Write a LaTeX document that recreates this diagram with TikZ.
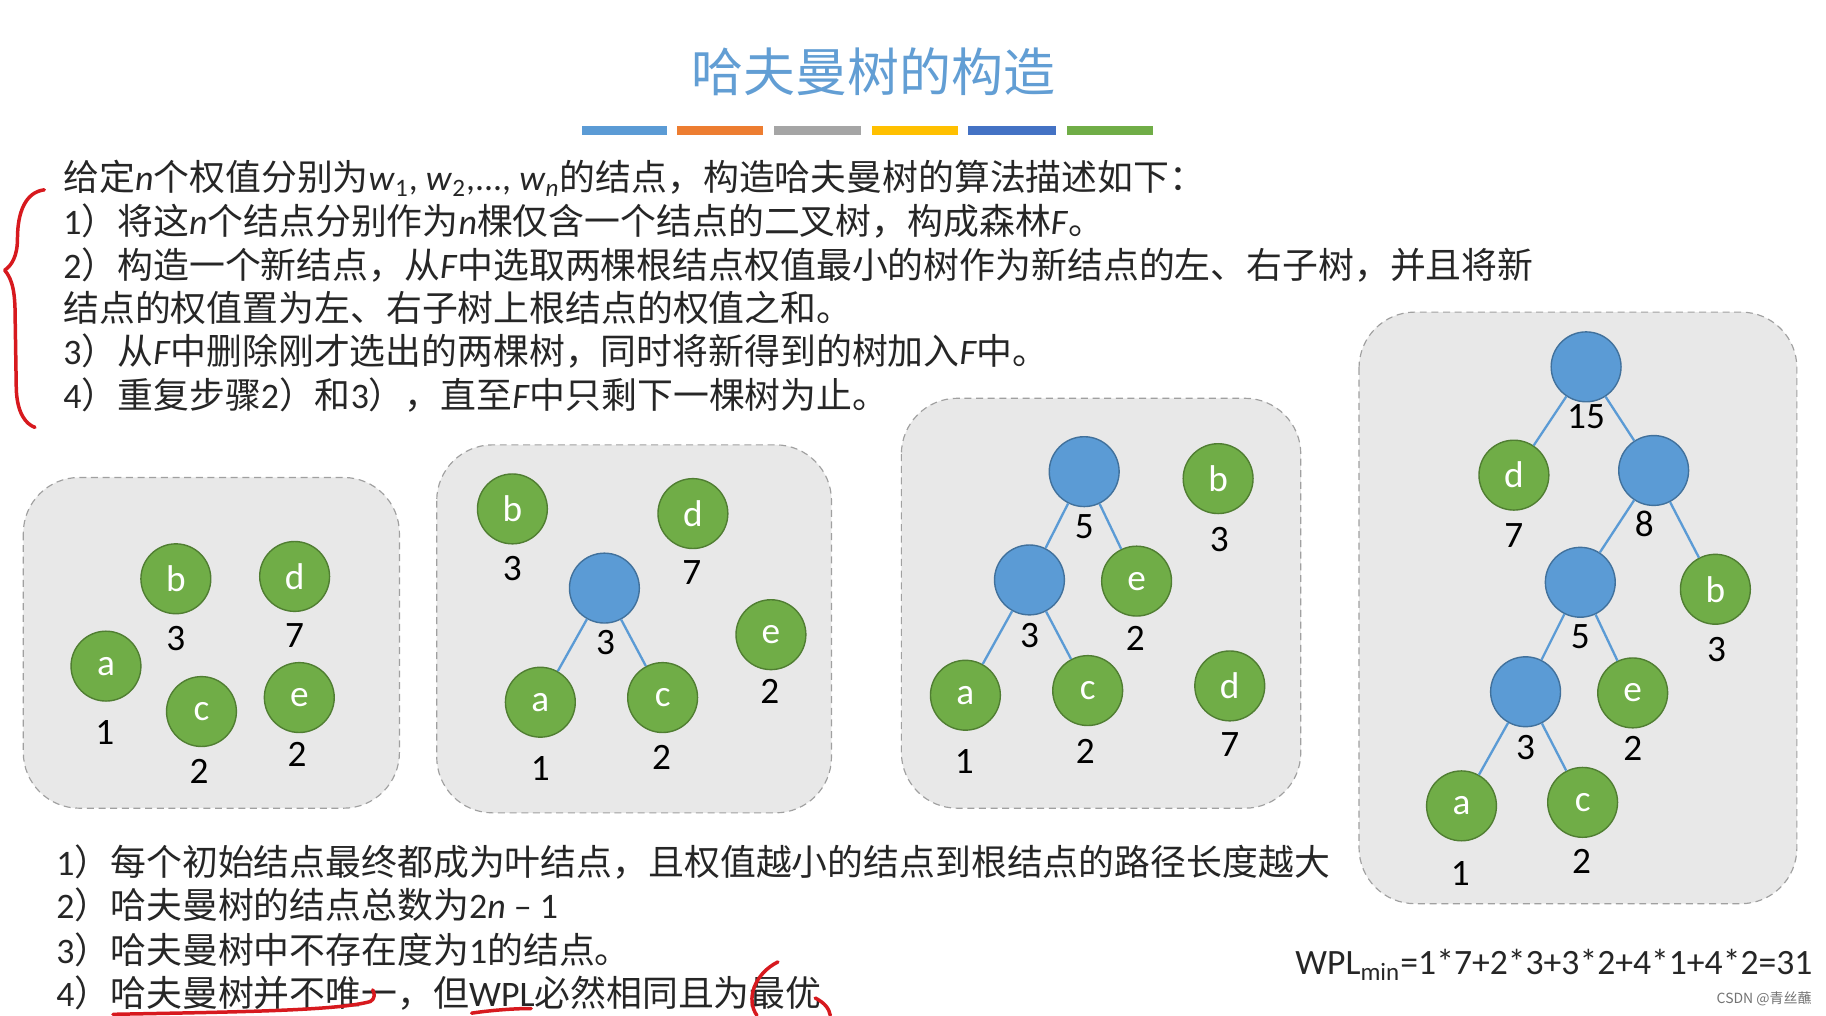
\documentclass[tikz,border=0pt]{standalone}
\usepackage{fontspec}
\setmainfont{Carlito}
\newfontfamily\cjk{Noto Sans CJK SC}
\newcommand{\zh}[1]{{\cjk #1}}
\definecolor{gfill}{RGB}{112,173,71}
\definecolor{gborder}{RGB}{80,126,50}
\definecolor{bfill}{RGB}{91,155,213}
\definecolor{bborder}{RGB}{65,113,156}
\definecolor{titleblue}{RGB}{98,158,212}
\definecolor{panelfill}{RGB}{232,232,232}
\definecolor{panelline}{RGB}{160,160,160}
\definecolor{inkred}{RGB}{215,25,30}
\definecolor{barA}{RGB}{91,155,213}
\definecolor{barB}{RGB}{237,125,49}
\definecolor{barC}{RGB}{165,165,165}
\definecolor{barD}{RGB}{255,192,0}
\definecolor{barE}{RGB}{68,114,196}
\definecolor{barF}{RGB}{112,173,71}
\begin{document}
\begin{tikzpicture}[x=0.5pt,y=-0.5pt,
  leaf/.style={circle, fill=gfill, draw=gborder, line width=0.6pt, minimum size=30pt, inner sep=0pt, text=white, font=\fontsize{16}{16}\selectfont},
  inner/.style={circle, fill=bfill, draw=bborder, line width=0.6pt, minimum size=30pt, inner sep=0pt},
  wt/.style={inner sep=0pt, text=black, font=\fontsize{16}{16}\selectfont},
  tedge/.style={draw=bfill, line width=1pt},
  panel/.style={fill=panelfill, draw=panelline, densely dashed, line width=0.5pt, rounded corners=24pt},
  txt/.style={anchor=base west, inner sep=0pt, text=black!85, font=\fontsize{15.4}{18}\selectfont},
  txtb/.style={anchor=base west, inner sep=0pt, text=black!85, font=\fontsize{15.4}{18}\selectfont},
  ink/.style={draw=inkred, line width=1.5pt, line cap=round, line join=round}]
\useasboundingbox (0,0) rectangle (1568,872);
\fill[white] (0,0) rectangle (1568,872);

% title
\node[anchor=base, inner sep=0pt, text=titleblue, font=\cjk\fontsize{22.3}{24}\selectfont] (title) at (750,79) {哈夫曼树的构造};
% colour bars
\fill[barA] (500,108) rectangle (573,116);
\fill[barB] (581,108) rectangle (655,116);
\fill[barC] (665,108) rectangle (739,116);
\fill[barD] (749,108) rectangle (823,116);
\fill[barE] (831,108) rectangle (907,116);
\fill[barF] (916,108) rectangle (990,116);

% main text
\node[txt] (l1) at (54,164) {\zh{给定}\textit{n}\zh{个权值分别为}\textit{w}\textsubscript{1}, \textit{w}\textsubscript{2},..., \textit{w}\textsubscript{\textit{n}}\zh{的结点，构造哈夫曼树的算法描述如下：}};
\node[txt] (l2) at (54,201) {1\zh{）将这}\textit{n}\zh{个结点分别作为}\textit{n}\zh{棵仅含一个结点的二叉树，构成森林}\textit{F}\zh{。}};
\node[txt] (l3) at (54,239) {2\zh{）构造一个新结点，从}\textit{F}\zh{中选取两棵根结点权值最小的树作为新结点的左、右子树，并且将新}};
\node[txt] (l4) at (54,276) {\zh{结点的权值置为左、右子树上根结点的权值之和。}};
\node[txt] (l5) at (54,313) {3\zh{）从}\textit{F}\zh{中删除刚才选出的两棵树，同时将新得到的树加入}\textit{F}\zh{中。}};
\node[txt] (l6) at (54,351) {4\zh{）重复步骤}2\zh{）和}3\zh{），直至}\textit{F}\zh{中只剩下一棵树为止。}};

% red brace
\draw[ink] (38,163) .. controls (22,165) and (15,182) .. (15,205) .. controls (15,220) and (10,228) .. (4,232) .. controls (11,240) and (13,252) .. (13,272) -- (14,335) .. controls (15,355) and (22,364) .. (30,367);

% panels
\draw[panel] (20,410) rectangle (343,694);
\draw[panel] (375,382) rectangle (714,698);
\draw[panel] (774,342) rectangle (1117,694);
\draw[panel] (1167,268) rectangle (1543,776);

% panel 1
\node[leaf] (p1b) at (151,497) {b};
\node[leaf] (p1d) at (253,495) {d};
\node[leaf] (p1a) at (91,572) {a};
\node[leaf] (p1c) at (173,611) {c};
\node[leaf] (p1e) at (257,599) {e};
\node[wt] (p1wb) at (151,548) {3};
\node[wt] (p1wd) at (253,546) {7};
\node[wt] (p1wa) at (90,629) {1};
\node[wt] (p1wc) at (171,662) {2};
\node[wt] (p1we) at (255,648) {2};

% panel 2
\node[leaf] (p2b) at (440,437) {b};
\node[leaf] (p2d) at (595,441) {d};
\node[inner] (p2n3) at (519,505) {};
\node[leaf] (p2a) at (464,603) {a};
\node[leaf] (p2c) at (569,599) {c};
\node[leaf] (p2e) at (662,545) {e};
\draw[tedge] (p2n3) -- (p2a);
\draw[tedge] (p2n3) -- (p2c);
\node[wt] (p2wb) at (440,488) {3};
\node[wt] (p2wd) at (594,492) {7};
\node[wt] (p2wn3) at (520,552) {3};
\node[wt] (p2wa) at (464,660) {1};
\node[wt] (p2wc) at (568,650) {2};
\node[wt] (p2we) at (661,594) {2};

% panel 3
\node[inner] (p3n5) at (931,405) {};
\node[leaf] (p3b) at (1046,411) {b};
\node[inner] (p3n3) at (884,498) {};
\node[leaf] (p3e) at (976,499) {e};
\node[leaf] (p3a) at (829,597) {a};
\node[leaf] (p3c) at (934,593) {c};
\node[leaf] (p3d) at (1056,589) {d};
\draw[tedge] (p3n5) -- (p3n3);
\draw[tedge] (p3n5) -- (p3e);
\draw[tedge] (p3n3) -- (p3a);
\draw[tedge] (p3n3) -- (p3c);
\node[wt] (p3wn5) at (931,452) {5};
\node[wt] (p3wb) at (1047,463) {3};
\node[wt] (p3wn3) at (884,546) {3};
\node[wt] (p3we) at (975,548) {2};
\node[wt] (p3wa) at (828,654) {1};
\node[wt] (p3wc) at (932,645) {2};
\node[wt] (p3wd) at (1056,639) {7};

% panel 4
\node[inner] (p4n15) at (1362,315) {};
\node[leaf] (p4d) at (1300,408) {d};
\node[inner] (p4n8) at (1420,404) {};
\node[inner] (p4n5) at (1357,500) {};
\node[leaf] (p4b) at (1473,506) {b};
\node[inner] (p4n3) at (1310,594) {};
\node[leaf] (p4e) at (1402,595) {e};
\node[leaf] (p4a) at (1255,692) {a};
\node[leaf] (p4c) at (1359,689) {c};
\draw[tedge] (p4n15) -- (p4d);
\draw[tedge] (p4n15) -- (p4n8);
\draw[tedge] (p4n8) -- (p4n5);
\draw[tedge] (p4n8) -- (p4b);
\draw[tedge] (p4n5) -- (p4n3);
\draw[tedge] (p4n5) -- (p4e);
\draw[tedge] (p4n3) -- (p4a);
\draw[tedge] (p4n3) -- (p4c);
\node[wt] (p4wn15) at (1362,358) {15};
\node[wt] (p4wd) at (1300,460) {7};
\node[wt] (p4wn8) at (1412,450) {8};
\node[wt] (p4wn5) at (1357,547) {5};
\node[wt] (p4wb) at (1474,558) {3};
\node[wt] (p4wn3) at (1310,642) {3};
\node[wt] (p4we) at (1402,643) {2};
\node[wt] (p4wa) at (1254,750) {1};
\node[wt] (p4wc) at (1358,740) {2};

% bottom text
\node[txtb] (b1) at (48,752) {1\zh{）每个初始结点最终都成为叶结点，且权值越小的结点到根结点的路径长度越大}};
\node[txtb] (b2) at (48,789) {2\zh{）哈夫曼树的结点总数为}2\textit{n} – 1};
\node[txtb] (b3) at (48,827) {3\zh{）哈夫曼树中不存在度为}1\zh{的结点。}};
\node[txtb] (b4) at (48,864) {4\zh{）哈夫曼树并不唯一，但}WPL\zh{必然相同且为最优}};

% formula
\node[anchor=base west, inner sep=0pt, text=black!85, font=\fontsize{15.3}{18}\selectfont] (wpl) at (1112,837) {WPL\textsubscript{min}=1*7+2*3+3*2+4*1+4*2=31};
% watermark
\node[anchor=base east, inner sep=0pt, text=black!55, font=\cjk\fontsize{6}{7}\selectfont] (csdn) at (1556,862) {CSDN @青丝蘸};

% red handwriting
\draw[ink] (97,871) .. controls (200,869) and (290,868) .. (318,860) .. controls (322,858) and (322,853) .. (320,850);
\draw[ink] (405,870) .. controls (425,867) and (445,866) .. (456,866);
\draw[ink] (668,826) .. controls (648,836) and (640,858) .. (650,872);
\draw[ink] (700,857) .. controls (708,861) and (712,866) .. (713,872);
\end{tikzpicture}
\end{document}
